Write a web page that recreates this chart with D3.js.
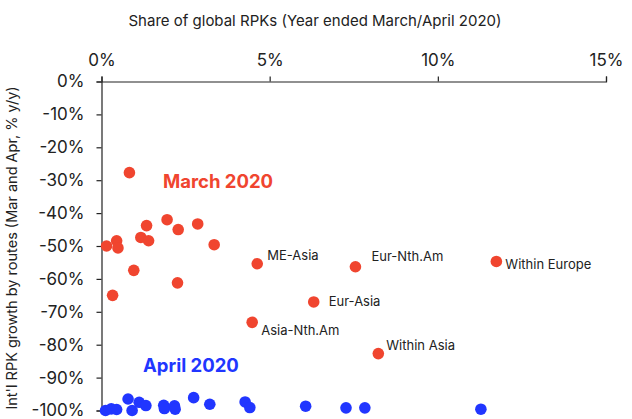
<!DOCTYPE html>
<html><head><meta charset="utf-8">
<script src="https://cdn.jsdelivr.net/npm/d3@7"></script>
<style>
html,body{margin:0;padding:0;background:#fff;}
svg{display:block;font-family:Inter,"Noto Sans",sans-serif;}
</style></head>
<body>
<script>
// Share of global RPKs (%) and growth (% y/y) by route
const marchShare  = [0.15, 0.33, 0.45, 0.49, 0.83, 0.96, 1.17, 1.34, 1.40, 1.95, 2.26, 2.28, 2.86, 3.35, 4.48, 4.63, 6.31, 7.55, 8.23, 11.74];
const marchGrowth = [-50.0, -65.0, -48.4, -50.6, -27.7, -57.4, -47.4, -43.8, -48.4, -42.0, -61.2, -45.0, -43.3, -49.6, -73.2, -55.4, -67.0, -56.3, -82.7, -54.7];
const marchNames  = ["", "", "", "", "", "", "", "", "", "", "", "", "", "", "Asia-Nth.Am", "ME-Asia", "Eur-Asia", "Eur-Nth.Am", "Within Asia", "Within Europe"];
const aprilShare  = [0.12, 0.29, 0.45, 0.79, 0.91, 1.12, 1.32, 1.85, 1.87, 2.17, 2.19, 2.74, 3.22, 4.27, 4.41, 6.07, 7.27, 7.83, 11.28];
const aprilGrowth = [-100.0, -99.5, -99.7, -96.5, -100.0, -97.5, -98.5, -98.4, -99.4, -98.6, -99.6, -96.1, -98.1, -97.4, -99.1, -98.7, -99.2, -99.2, -99.6];
const xTicks = [0, 5, 10, 15];
const yTicks = [0, -10, -20, -30, -40, -50, -60, -70, -80, -90, -100];

const W = 632, H = 419;
const svg = d3.select("body").append("svg").attr("width", W).attr("height", H);

const x = d3.scaleLinear().domain([0, 15]).range([101.5, 606]);
const y = d3.scaleLinear().domain([0, -100]).range([81.5, 410.5]);

const red = "#f0452f", blue = "#2136ff", ink = "#222";

// x axis (top)
const xAxis = svg.append("g").attr("transform", `translate(0,${y(0)})`)
  .call(d3.axisTop(x).tickValues(xTicks).tickSize(5).tickPadding(11).tickFormat(d => d + "%"));
// y axis (left)
const yAxis = svg.append("g").attr("transform", `translate(${x(0)},0)`)
  .call(d3.axisLeft(y).tickValues(yTicks).tickSize(5).tickPadding(12).tickFormat(d => d + "%"));
[xAxis, yAxis].forEach(g => {
  g.select(".domain").attr("stroke", ink).attr("stroke-width", 1.2);
  g.selectAll(".tick line").attr("stroke", ink).attr("stroke-width", 1.2);
  g.selectAll("text").attr("fill", ink).style("font-size", "17px").style("font-family", "Inter, sans-serif");
});

// titles
svg.append("text").attr("x", 315).attr("y", 26).attr("text-anchor", "middle")
  .attr("fill", ink).style("font-size", "15px").text("Share of global RPKs (Year ended March/April 2020)");
svg.append("text").attr("transform", `translate(17,${(y(0)+y(-100))/2 + 2}) rotate(-90)`)
  .attr("text-anchor", "middle").attr("fill", ink).style("font-size", "14.5px")
  .text("Int'l RPK growth by routes (Mar and Apr, % y/y)");

// points
const r = 5.8;
svg.append("g").selectAll("circle").data(aprilShare.map((s, i) => [s, aprilGrowth[i]]))
  .join("circle").attr("cx", d => x(d[0])).attr("cy", d => y(d[1])).attr("r", r).attr("fill", blue);
svg.append("g").selectAll("circle").data(marchShare.map((s, i) => [s, marchGrowth[i]]))
  .join("circle").attr("cx", d => x(d[0])).attr("cy", d => y(d[1])).attr("r", r).attr("fill", red);

// route labels
const labelOffset = {
  "ME-Asia": [10, -8.5], "Eur-Nth.Am": [16, -10], "Within Europe": [9, 3],
  "Eur-Asia": [15, 0], "Asia-Nth.Am": [9, 8.5], "Within Asia": [8, -8]
};
svg.append("g").selectAll("text")
  .data(marchNames.map((n, i) => ({n, s: marchShare[i], g: marchGrowth[i]})).filter(d => d.n))
  .join("text")
  .attr("x", d => x(d.s) + labelOffset[d.n][0])
  .attr("y", d => y(d.g) + labelOffset[d.n][1])
  .attr("dy", "0.35em").attr("fill", ink).style("font-size", "13px")
  .text(d => d.n);

// series labels
svg.append("text").attr("x", 163).attr("y", 182).attr("dy", "0.35em")
  .attr("fill", red).style("font-size", "18.5px").style("font-weight", "bold").text("March 2020");
svg.append("text").attr("x", 143).attr("y", 366).attr("dy", "0.35em")
  .attr("fill", blue).style("font-size", "18.5px").style("font-weight", "bold").text("April 2020");
</script>
</body></html>
